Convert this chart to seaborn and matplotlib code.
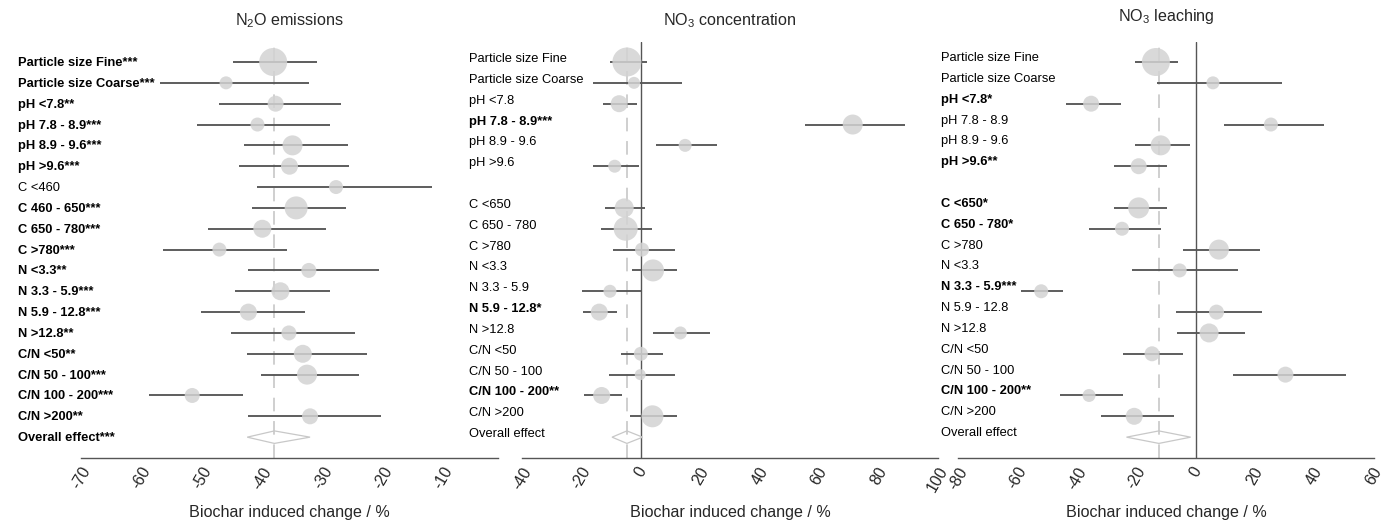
import numpy as np
import pandas as pd
import matplotlib.pyplot as plt
import matplotlib.transforms as mtransforms
import seaborn as sns

# Строки (категории) для N2O
n2o_labels = ['Particle size Fine', 'Particle size Coarse', 'pH <7.8', 'pH 7.8 - 8.9', 'pH 8.9 - 9.6', 'pH >9.6',
              'C <460', 'C 460 - 650', 'C 650 - 780', 'C >780',
              'N <3.3', 'N 3.3 - 5.9', 'N 5.9 - 12.8', 'N >12.8',
              'C/N <50', 'C/N 50 - 100', 'C/N 100 - 200', 'C/N >200']
n2o_sig = ['***', '***', '**', '***', '***', '***', '', '***', '***', '***',
           '**', '***', '***', '**', '**', '***', '***', '**']
n2o_mean = [-38.2, -46.0, -37.8, -40.8, -35.0, -35.5, -27.8, -34.4, -40.0, -47.1,
            -32.3, -37.0, -42.3, -35.6, -33.3, -32.6, -51.6, -32.1]
n2o_lo = [-44.8, -57.0, -47.2, -50.8, -43.1, -43.9, -40.8, -41.7, -49.0, -56.5,
          -42.3, -44.6, -50.2, -45.2, -42.5, -40.2, -58.8, -42.3]
n2o_hi = [-30.9, -32.2, -27.0, -28.8, -25.8, -25.7, -12.0, -26.1, -29.5, -35.9,
          -20.7, -28.8, -33.0, -24.7, -22.6, -24.0, -43.2, -20.4]
n2o_w = [28, 13, 16, 14, 20, 17, 14, 23, 18, 14, 15, 18, 17, 15, 18, 20, 15, 16]
n2o_overall = [-42.5, -38.0, -32.1]
n2o_overall_sig = '***'

# Строки для NO3 (концентрация и вымывание)
no3_labels = ['Particle size Fine', 'Particle size Coarse', 'pH <7.8', 'pH 7.8 - 8.9', 'pH 8.9 - 9.6', 'pH >9.6',
              'C <650', 'C 650 - 780', 'C >780',
              'N <3.3', 'N 3.3 - 5.9', 'N 5.9 - 12.8', 'N >12.8',
              'C/N <50', 'C/N 50 - 100', 'C/N 100 - 200', 'C/N >200']

conc_sig = ['', '', '', '***', '', '', '', '', '', '', '', '*', '', '', '', '**', '']
conc_mean = [-4.7, -2.3, -7.3, 71.3, 14.9, -8.8, -5.6, -5.1, 0.4,
             4.1, -10.4, -14.0, 13.3, 0.0, -0.2, -13.2, 3.9]
conc_lo = [-10.4, -16.1, -12.7, 55.3, 5.0, -16.1, -12.1, -13.4, -9.5,
           -3.1, -19.7, -19.6, 4.1, -6.8, -10.6, -19.3, -3.5]
conc_hi = [2.0, 13.8, -1.3, 88.9, 25.7, -0.7, 1.3, 3.9, 11.6,
           12.2, 0.0, -8.0, 23.4, 7.3, 11.5, -6.5, 12.0]
conc_w = [29, 12, 17, 20, 13, 13, 19, 24, 14, 22, 13, 17, 13, 14, 11, 17, 22]
conc_overall = [-9.7, -4.7, 0.6]
conc_overall_sig = ''

leach_sig = ['', '', '*', '', '', '**', '*', '*', '', '', '***', '', '', '', '', '**', '']
leach_mean = [-13.4, 5.8, -35.2, 25.3, -11.8, -19.2, -19.2, -24.8, 7.8,
              -5.4, -52.0, 7.0, 4.5, -14.7, 30.2, -35.9, -20.7]
leach_lo = [-20.5, -13.0, -43.8, 9.6, -20.5, -27.5, -27.5, -35.9, -4.4,
            -21.6, -58.7, -6.7, -6.3, -24.4, 12.6, -45.6, -32.0]
leach_hi = [-5.9, 29.0, -25.3, 43.2, -2.0, -9.6, -9.6, -11.8, 21.8,
            14.2, -44.5, 22.2, 16.5, -4.4, 50.6, -24.5, -7.4]
leach_w = [28, 13, 16, 14, 20, 16, 21, 14, 20, 14, 14, 15, 19, 15, 16, 13, 17]
leach_overall = [-23.3, -12.4, -1.7]
leach_overall_sig = ''

n2o_ticks = [-70, -60, -50, -40, -30, -20, -10]
conc_ticks = [-40, -20, 0, 20, 40, 60, 80, 100]
leach_ticks = [-80, -60, -40, -20, 0, 20, 40, 60]

sns.set_style('white')
plt.rcParams['font.family'] = ['Liberation Sans', 'DejaVu Sans']
plt.rcParams['mathtext.default'] = 'regular'

fig = plt.figure(figsize=(13.92, 5.23), dpi=100)

panels = [
    dict(title='N$_2$O emissions', labels=n2o_labels, sig=n2o_sig, mean=n2o_mean, lo=n2o_lo, hi=n2o_hi,
         w=n2o_w, overall=n2o_overall, osig=n2o_overall_sig, ticks=n2o_ticks, xlim=(-70, -1),
         gap=False, zero=False, left=81, label_x=18, label_dy=-1, pad=12),
    dict(title='NO$_3$ concentration', labels=no3_labels, sig=conc_sig, mean=conc_mean, lo=conc_lo, hi=conc_hi,
         w=conc_w, overall=conc_overall, osig=conc_overall_sig, ticks=conc_ticks, xlim=(-40, 100),
         gap=True, zero=True, left=522, label_x=469, label_dy=3, pad=12),
    dict(title='NO$_3$ leaching', labels=no3_labels, sig=leach_sig, mean=leach_mean, lo=leach_lo, hi=leach_hi,
         w=leach_w, overall=leach_overall, osig=leach_overall_sig, ticks=leach_ticks, xlim=(-80, 60),
         gap=True, zero=True, left=958, label_x=941, label_dy=4, pad=15),
]

W, H = 1392, 523
dmin, dmax = 11, 29

for p in panels:
    width = 417 if p['left'] == 81 else 416
    ax = fig.add_axes([p['left'] / W, (H - 458) / H, width / W, (458 - 42) / H])

    n = len(p['labels'])
    pos = [i if (not p['gap'] or i < 6) else i + 1 for i in range(n)]
    df = pd.DataFrame({'label': p['labels'], 'sig': p['sig'], 'mean': p['mean'],
                       'lo': p['lo'], 'hi': p['hi'], 'w': p['w'], 'pos': pos})
    df['area'] = np.array(df['w'], dtype=float) ** 2
    overall_pos = pos[-1] + 1

    # линии: средний эффект и ноль
    ax.axvline(p['overall'][1], color='#cfcfcf', lw=1.4, ls=(0, (7, 5)), zorder=1)
    if p['zero']:
        ax.axvline(0, color='#555555', lw=1.0, zorder=1)

    ax.hlines(df['pos'], df['lo'], df['hi'], color='#575757', lw=1.35, zorder=2)
    sns.scatterplot(data=df, x='mean', y='pos', size='area',
                    sizes=((dmin * 0.72) ** 2, (dmax * 0.72) ** 2), size_norm=(dmin ** 2, dmax ** 2),
                    color='#d3d3d3', alpha=0.85, edgecolor='none', linewidth=0,
                    legend=False, ax=ax, zorder=3)

    lo, mid, hi = p['overall']
    h = 0.3
    ax.fill([lo, mid, hi, mid], [overall_pos, overall_pos - h, overall_pos, overall_pos + h],
            facecolor='none', edgecolor='#c8c8c8', lw=0.9, zorder=4)

    # подписи строк
    trans = mtransforms.blended_transform_factory(ax.transAxes, ax.transData)
    dy = mtransforms.ScaledTranslation(0, p['label_dy'] / 100, fig.dpi_scale_trans)
    xf = (p['label_x'] - p['left']) / width
    for lab, s, y in zip(df['label'], df['sig'], df['pos']):
        ax.text(xf, y, lab + s, transform=trans + dy, ha='left', va='center', fontsize=9.3,
                fontweight='bold' if s else 'normal', color='black')
    ax.text(xf, overall_pos, 'Overall effect' + p['osig'], transform=trans + dy, ha='left', va='center',
            fontsize=9.3, fontweight='bold' if p['osig'] else 'normal', color='black')

    ax.set_xlim(*p['xlim'])
    ax.set_ylim(19.0, -0.96)
    ax.set_xticks(p['ticks'])
    ax.set_xticklabels([str(t) for t in p['ticks']], rotation=60, ha='center', fontsize=11.5)
    ax.set_yticks([])
    ax.set_ylabel('')
    ax.set_xlabel('Biochar induced change / %', fontsize=11.6)
    ax.xaxis.set_label_coords(0.5, -0.13)
    ax.xaxis.label.set_va('center')
    ax.set_title(p['title'], fontsize=11.6, pad=p['pad'])

    for side in ['left', 'top', 'right']:
        ax.spines[side].set_visible(False)
    ax.spines['bottom'].set_color('#555555')
    ax.spines['bottom'].set_linewidth(1.0)
    ax.tick_params(axis='x', direction='out', length=3.6, width=1.0, color='#555555', pad=1)
    ax.patch.set_alpha(0)

fig.savefig('out.png', dpi=100)
